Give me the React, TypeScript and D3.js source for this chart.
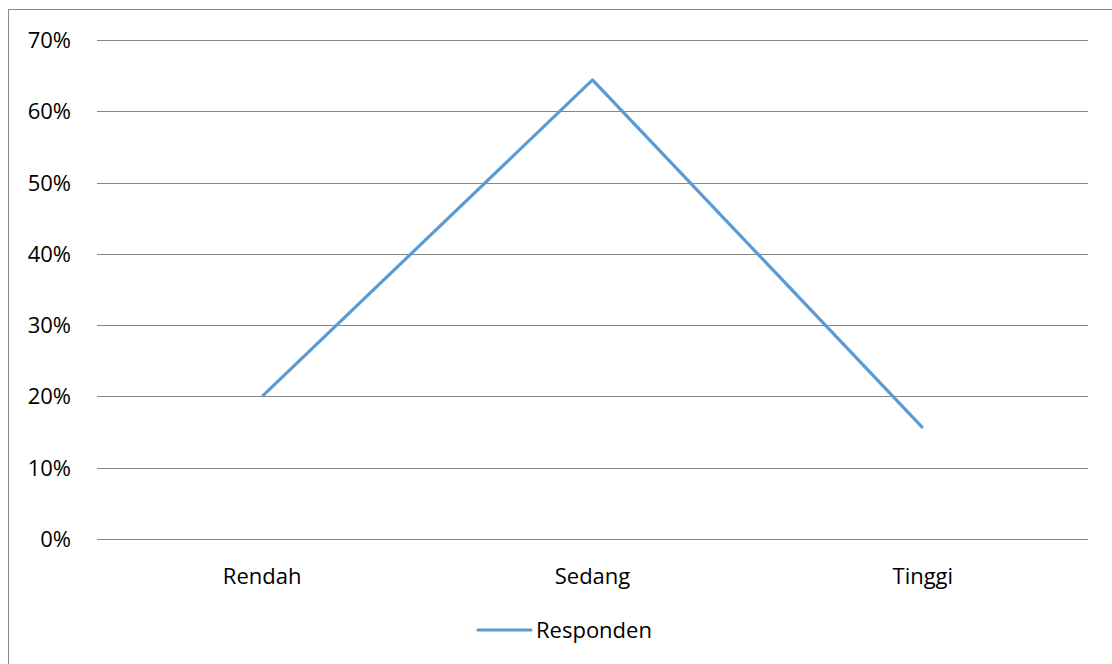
import React from "react";
import * as d3 from "d3";

const categories = ["Rendah", "Sedang", "Tinggi"];
const values = [0.2, 0.644, 0.156];
const yTicks = [0, 0.1, 0.2, 0.3, 0.4, 0.5, 0.6, 0.7];
const seriesName = "Responden";

export default function App() {
  const W = 1112, H = 664;
  const left = 97, right = 1088, top = 40, bottom = 539;
  const x = d3.scaleBand<string>().domain(categories).range([left, right]).padding(0);
  const y = d3.scaleLinear().domain([0, 0.7]).range([bottom, top]);
  const line = d3.line<number>()
    .x((_, i) => (x(categories[i]) as number) + x.bandwidth() / 2)
    .y((d) => y(d));
  const font = "'Open Sans', sans-serif";
  const fs = 22;
  return (
    <svg width={W} height={H} style={{ position: "absolute", left: 0, top: 0 }} fontFamily={font}>
      <rect x={0} y={0} width={W} height={H} fill="#fff" />
      <rect x={8.5} y={9.5} width={W + 20} height={H + 20} fill="none" stroke="#898989" strokeWidth={1} />
      {yTicks.map((t) => (
        <g key={t}>
          <line x1={left} x2={right} y1={Math.round(y(t)) + 0.5} y2={Math.round(y(t)) + 0.5} stroke="#868686" strokeWidth={1} />
          <text x={71} y={y(t) + 8} textAnchor="end" fontSize={fs} fill="#000">
            {d3.format(".0%")(t)}
          </text>
        </g>
      ))}
      {categories.map((c) => (
        <text key={c} x={(x(c) as number) + x.bandwidth() / 2} y={584} textAnchor="middle" fontSize={fs} fill="#000">
          {c}
        </text>
      ))}
      <path d={line(values) || ""} fill="none" stroke="#5B9BD5" strokeWidth={3.2} strokeLinejoin="round" />
      <line x1={478} x2={531} y1={630} y2={630} stroke="#5B9BD5" strokeWidth={3.2} strokeLinecap="round" />
      <text x={536} y={638} fontSize={fs} fill="#000">{seriesName}</text>
    </svg>
  );
}
